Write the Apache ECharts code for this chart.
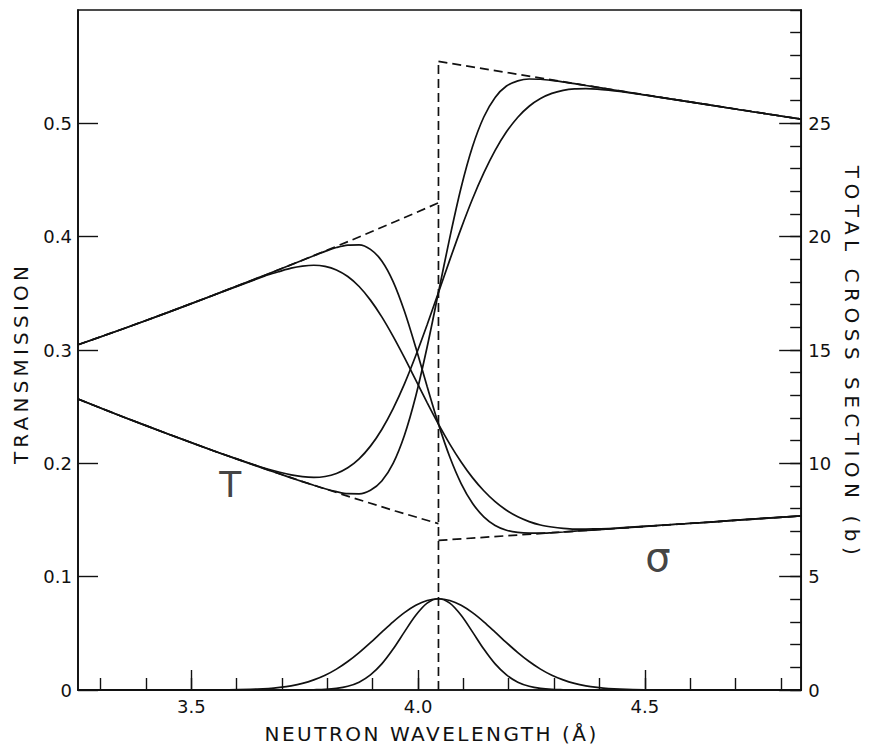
<!DOCTYPE html>
<html>
<head>
<meta charset="utf-8">
<script src="https://cdn.jsdelivr.net/npm/echarts@6/dist/echarts.min.js"></script>
<style>
  html, body { margin: 0; padding: 0; background: #ffffff; }
  #chart { width: 870px; height: 749px; }
</style>
</head>
<body>
<div id="chart"></div>
<script>
// Neutron wavelength grid (Å), dense around the Bragg edge
const wavelength = [3.25, 3.35, 3.45, 3.55, 3.645, 3.67, 3.695, 3.72, 3.745, 3.77, 3.795, 3.82, 3.845, 3.87, 3.895, 3.92, 3.945, 3.97, 3.995, 4.02, 4.045, 4.07, 4.095, 4.12, 4.145, 4.17, 4.195, 4.22, 4.245, 4.27, 4.295, 4.32, 4.345, 4.37, 4.395, 4.42, 4.445, 4.545, 4.645, 4.745, 4.845];

// Transmission seen through the wide and the narrow resolution function
const transmissionWide = [0.2567, 0.2409, 0.2257, 0.2109, 0.1979, 0.1948, 0.1921, 0.1898, 0.1882, 0.1876, 0.1884, 0.1911, 0.1961, 0.2040, 0.2152, 0.2299, 0.2483, 0.2701, 0.2951, 0.3223, 0.3508, 0.3795, 0.4073, 0.4332, 0.4562, 0.4761, 0.4925, 0.5054, 0.5151, 0.5219, 0.5264, 0.5291, 0.5304, 0.5306, 0.5302, 0.5293, 0.5281, 0.5223, 0.5160, 0.5098, 0.5037];
const transmissionNarrow = [0.2567, 0.2409, 0.2257, 0.2109, 0.1975, 0.1940, 0.1906, 0.1872, 0.1839, 0.1807, 0.1776, 0.1750, 0.1732, 0.1731, 0.1762, 0.1844, 0.2000, 0.2248, 0.2594, 0.3026, 0.3508, 0.3992, 0.4434, 0.4793, 0.5056, 0.5229, 0.5329, 0.5375, 0.5391, 0.5389, 0.5379, 0.5365, 0.5350, 0.5334, 0.5318, 0.5302, 0.5286, 0.5223, 0.5160, 0.5098, 0.5037];

// Apparent total cross section (b) for the same two resolutions
const sigmaWide = [15.23, 15.94, 16.67, 17.43, 18.14, 18.32, 18.47, 18.61, 18.70, 18.74, 18.69, 18.53, 18.24, 17.80, 17.20, 16.46, 15.60, 14.66, 13.67, 12.68, 11.73, 10.85, 10.06, 9.37, 8.79, 8.31, 7.93, 7.64, 7.43, 7.28, 7.19, 7.13, 7.10, 7.10, 7.11, 7.12, 7.15, 7.28, 7.41, 7.55, 7.68];
const sigmaNarrow = [15.23, 15.94, 16.67, 17.43, 18.17, 18.36, 18.56, 18.76, 18.96, 19.16, 19.35, 19.52, 19.63, 19.64, 19.44, 18.93, 18.02, 16.71, 15.11, 13.39, 11.73, 10.28, 9.11, 8.24, 7.64, 7.26, 7.05, 6.95, 6.92, 6.92, 6.94, 6.97, 7.01, 7.04, 7.07, 7.11, 7.14, 7.28, 7.41, 7.55, 7.68];

// Resolution functions centred on the edge (transmission scale)
const resolutionWide = [0, 0, 0, 0, 0.0008, 0.0013, 0.0023, 0.0037, 0.0058, 0.0089, 0.0130, 0.0184, 0.0251, 0.0330, 0.0418, 0.0511, 0.0602, 0.0683, 0.0748, 0.0790, 0.0805, 0.0790, 0.0748, 0.0683, 0.0602, 0.0511, 0.0418, 0.0330, 0.0251, 0.0184, 0.0130, 0.0089, 0.0058, 0.0037, 0.0023, 0.0013, 0.0008, 0, 0, 0, 0];
const resolutionNarrow = [0, 0, 0, 0, 0, 0, 0, 0, 0, 0.0002, 0.0005, 0.0014, 0.0033, 0.0069, 0.0133, 0.0230, 0.0361, 0.0513, 0.0659, 0.0766, 0.0805, 0.0766, 0.0659, 0.0513, 0.0361, 0.0230, 0.0133, 0.0069, 0.0033, 0.0014, 0.0005, 0.0002, 0, 0, 0, 0, 0, 0, 0, 0, 0];

// Ideal (perfect-resolution) curves on either side of the edge
const idealLeftWavelength = [3.25, 3.35, 3.45, 3.55, 3.65, 3.75, 3.85, 3.95, 4.045];
const idealLeftTransmission = [0.2567, 0.2409, 0.2257, 0.2109, 0.1969, 0.1833, 0.1704, 0.1579, 0.1468];
const idealLeftSigma = [15.23, 15.94, 16.67, 17.43, 18.20, 19.00, 19.82, 20.67, 21.49];
const idealRightWavelength = [4.045, 4.445, 4.845];
const idealRightTransmission = [0.5547, 0.5286, 0.5037];
const idealRightSigma = [6.60, 7.14, 7.68];
const edgeWavelength = 4.045;

// Axis ticks
const xMinorTicks = [3.3, 3.4, 3.5, 3.6, 3.7, 3.8, 3.9, 4.0, 4.1, 4.2, 4.3, 4.4, 4.5, 4.6, 4.7, 4.8];
const xMajorTicks = [3.5, 4.0, 4.5];

// In-plot curve labels
const labelText = ['T', 'σ'];
const labelWavelength = [3.586, 4.529];
const labelValue = [0.1815, 5.86];
const labelAxis = [0, 1];

const INK = '#111111';
const FONT = 'DejaVu Sans';

function pairs(xs, ys) { return xs.map((x, i) => [x, ys[i]]); }

const solid = { color: INK, width: 1.7, type: 'solid' };
const dashed = { color: INK, width: 1.7, type: [9, 5] };

function line(name, data, yAxisIndex, style, smooth) {
  return {
    name: name, type: 'line', data: data, yAxisIndex: yAxisIndex, xAxisIndex: 0,
    showSymbol: false, symbol: 'none', smooth: smooth ? 0.3 : false,
    lineStyle: style, silent: true, z: style === dashed ? 2 : 3
  };
}

const series = [
  line('ideal T left', pairs(idealLeftWavelength, idealLeftTransmission), 0, dashed, false),
  line('ideal T right', pairs(idealRightWavelength, idealRightTransmission), 0, dashed, false),
  line('ideal sigma left', pairs(idealLeftWavelength, idealLeftSigma), 1, dashed, false),
  line('ideal sigma right', pairs(idealRightWavelength, idealRightSigma), 1, dashed, false),
  line('edge', [[edgeWavelength, 0], [edgeWavelength, idealRightTransmission[0]]], 0, dashed, false),
  line('T wide', pairs(wavelength, transmissionWide), 0, solid, true),
  line('T narrow', pairs(wavelength, transmissionNarrow), 0, solid, true),
  line('sigma wide', pairs(wavelength, sigmaWide), 1, solid, true),
  line('sigma narrow', pairs(wavelength, sigmaNarrow), 1, solid, true),
  line('resolution wide', pairs(wavelength, resolutionWide), 0, solid, true),
  line('resolution narrow', pairs(wavelength, resolutionNarrow), 0, solid, true)
];

labelText.forEach((t, i) => {
  series.push({
    type: 'scatter', yAxisIndex: labelAxis[i], xAxisIndex: 0, silent: true,
    symbolSize: 0,
    data: [{ value: [labelWavelength[i], labelValue[i]], name: t }],
    label: {
      show: true, position: 'inside', formatter: '{b}',
      color: INK, fontFamily: FONT, fontSize: t === 'T' ? 36 : 40, fontWeight: 'normal'
    }
  });
});

const tickLabelStyle = { color: INK, fontFamily: FONT, fontSize: 18 };
const nameStyle = { color: INK, fontFamily: FONT, fontSize: 20 };

const option = {
  animation: false,
  backgroundColor: '#ffffff',
  grid: { left: 78, right: 67, top: 10, bottom: 56, show: true, borderColor: INK, borderWidth: 1.7, backgroundColor: 'transparent' },
  xAxis: [
    {
      type: 'value', min: 3.25, max: 4.845, position: 'bottom',
      axisLine: { show: true, lineStyle: { color: INK, width: 1.7 } },
      axisTick: { show: true, inside: true, length: 12, customValues: xMinorTicks, lineStyle: { color: INK, width: 1.4 } },
      axisLabel: { show: true, customValues: xMajorTicks, formatter: v => v.toFixed(1), margin: 7, ...tickLabelStyle },
      splitLine: { show: false },
      name: 'NEUTRON WAVELENGTH (Å)', nameLocation: 'middle', nameGap: 34,
      nameTextStyle: { ...nameStyle, padding: [0, 16, 0, 0] }
    },
    {
      type: 'value', min: 3.25, max: 4.845, position: 'bottom',
      axisLine: { show: false },
      axisTick: { show: true, inside: true, length: 20, customValues: xMajorTicks, lineStyle: { color: INK, width: 1.4 } },
      axisLabel: { show: false }, splitLine: { show: false }
    }
  ],
  yAxis: [
    {
      type: 'value', min: 0, max: 0.6, interval: 0.1, position: 'left',
      axisLine: { show: true, lineStyle: { color: INK, width: 1.7 } },
      axisTick: { show: true, inside: true, length: 20, lineStyle: { color: INK, width: 1.4 } },
      axisLabel: { formatter: v => (v === 0 ? '0' : v.toFixed(1)), showMaxLabel: false, margin: 6, ...tickLabelStyle },
      splitLine: { show: false },
      name: 'TRANSMISSION', nameLocation: 'middle', nameGap: 47, nameRotate: 90,
      nameTextStyle: { ...nameStyle, padding: [0, 26, 0, 0] }
    },
    {
      type: 'value', min: 0, max: 30, interval: 5, position: 'right',
      axisLine: { show: true, lineStyle: { color: INK, width: 1.7 } },
      axisTick: { show: true, inside: true, length: 22, lineStyle: { color: INK, width: 1.4 } },
      axisLabel: { showMaxLabel: false, margin: 7, ...tickLabelStyle },
      splitLine: { show: false },
      name: 'TOTAL CROSS SECTION (b)', nameLocation: 'middle', nameGap: 37, nameRotate: -90,
      nameTextStyle: { ...nameStyle, padding: [0, 0, 0, 26] }
    },
    {
      type: 'value', min: 0, max: 30, interval: 1, position: 'right',
      axisLine: { show: false },
      axisTick: { show: true, inside: true, length: 11, lineStyle: { color: INK, width: 1.4 } },
      axisLabel: { show: false }, splitLine: { show: false }
    }
  ],
  series: series
};

const dom = document.getElementById('chart');
const chart = echarts.init(dom, null, { renderer: 'svg' });
chart.setOption(option);

// Hand-lettered axis titles are widely spaced
const titleSpacing = { 'NEUTRON WAVELENGTH (Å)': 2.5, 'TRANSMISSION': 4.2, 'TOTAL CROSS SECTION (b)': 5.5 };
function spaceTitles() {
  dom.querySelectorAll('text').forEach(t => {
    const s = t.textContent;
    if (titleSpacing[s] !== undefined) t.setAttribute('letter-spacing', titleSpacing[s]);
  });
}
chart.on('finished', spaceTitles);
spaceTitles();
</script>
</body>
</html>
